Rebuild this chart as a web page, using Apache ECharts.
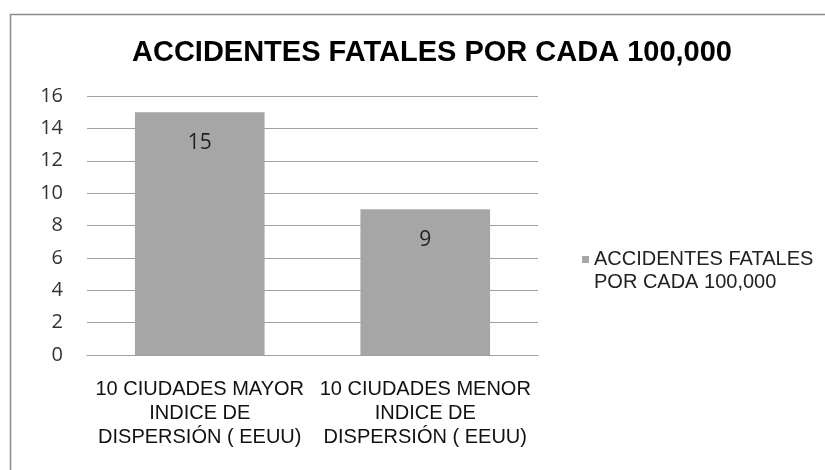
<!DOCTYPE html>
<html>
<head>
<meta charset="utf-8">
<script src="https://cdn.jsdelivr.net/npm/echarts@6/dist/echarts.min.js"></script>
<style>html,body{margin:0;padding:0;background:#fff;}#c{width:825px;height:470px;}</style>
</head>
<body>
<div id="c"></div>
<script>
const titleText = 'ACCIDENTES FATALES POR CADA 100,000';
const categories = ['10 CIUDADES MAYOR\nINDICE DE\nDISPERSIÓN ( EEUU)', '10 CIUDADES MENOR\nINDICE DE\nDISPERSIÓN ( EEUU)'];
const seriesName = 'ACCIDENTES FATALES POR CADA 100,000';
const legendLines = ['ACCIDENTES FATALES', 'POR CADA 100,000'];
const values = [15, 9];
const yMin = 0, yMax = 16, yInterval = 2;

const chart = echarts.init(document.getElementById('c'), null, {renderer: 'canvas'});
chart.setOption({
  animation: false,
  backgroundColor: '#fff',
  graphic: [{
    type: 'rect', left: 8, top: 12, silent: true,
    shape: {x: 0, y: 0, width: 900, height: 500},
    style: {fill: 'none', stroke: '#8c8c8c', lineWidth: 1.5}
  }],
  title: {
    text: titleText, left: 427, top: 33, textAlign: 'center',
    textStyle: {fontFamily: 'Liberation Sans, Arial', fontWeight: 'bold', fontSize: 29, color: '#000'}
  },
  legend: {
    left: 577, top: 220, icon: 'rect', itemWidth: 7, itemHeight: 7, itemGap: 4,
    formatter: function () { return '\n' + legendLines.join('\n'); },
    textStyle: {fontFamily: 'Liberation Sans, Arial', fontSize: 20, color: '#222', lineHeight: 23}
  },
  grid: {left: 87, right: 287, top: 96, bottom: 115, containLabel: false},
  xAxis: {
    type: 'category', data: categories,
    axisTick: {show: false},
    axisLine: {lineStyle: {color: '#a0a0a0', width: 1}},
    axisLabel: {interval: 0, margin: 22, fontFamily: 'Liberation Sans, Arial', fontSize: 20, lineHeight: 24, color: '#111'}
  },
  yAxis: {
    type: 'value', min: yMin, max: yMax, interval: yInterval,
    axisLine: {show: false}, axisTick: {show: false},
    splitLine: {lineStyle: {color: '#a0a0a0', width: 1}},
    axisLabel: {margin: 24, fontFamily: 'Open Sans', fontSize: 20, color: '#333'}
  },
  series: [{
    name: seriesName, type: 'bar', data: values, barWidth: '57.5%',
    itemStyle: {color: '#a6a6a6'},
    label: {show: true, position: 'insideTop', distance: 20, fontFamily: 'Open Sans', fontSize: 21, color: '#222'}
  }]
});
</script>
</body>
</html>
